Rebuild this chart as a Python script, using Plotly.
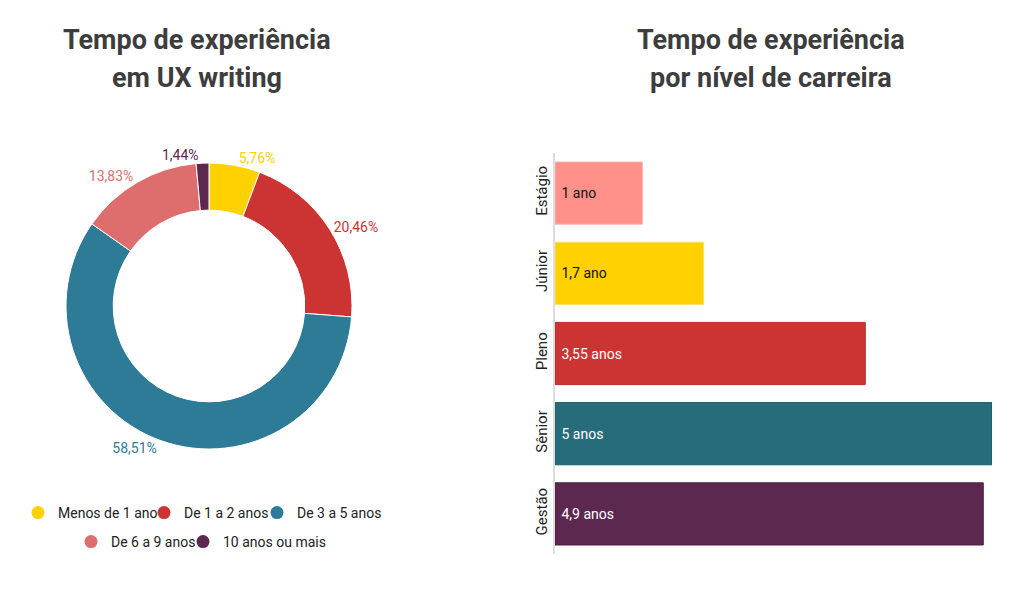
import plotly.graph_objects as go

# Donut data
faixas = ["Menos de 1 ano", "De 1 a 2 anos", "De 3 a 5 anos", "De 6 a 9 anos", "10 anos ou mais"]
percentuais = [5.76, 20.46, 58.51, 13.83, 1.44]
rotulos_pct = ["5,76%", "20,46%", "58,51%", "13,83%", "1,44%"]
cores_donut = ["#FFD100", "#CC3333", "#2E7B98", "#DE6E6E", "#5C2850"]

# Bar data
niveis = ["Estágio", "Júnior", "Pleno", "Sênior", "Gestão"]
anos = [1, 1.7, 3.55, 5, 4.9]
rotulos_anos = ["1 ano", "1,7 ano", "3,55 anos", "5 anos", "4,9 anos"]
cores_barras = ["#FF918A", "#FFD100", "#CC3333", "#276C7A", "#5C2850"]
bordas_barras = ["#FFB3AD", "#FFE066", "#B82A2A", "#1F5A66", "#4A1E40"]
cores_texto_barras = ["#111111", "#111111", "#FFFFFF", "#FFFFFF", "#FFFFFF"]

# page is rendered with an 8px body margin
OFF = 8
W, H = 1024 - OFF, 589 - OFF
FONT = "Roboto"


def px(x):
    return (x - OFF) / W


def py(y):
    return 1 - (y - OFF) / H


fig = go.Figure()

fig.add_trace(go.Pie(
    labels=faixas, values=percentuais, text=rotulos_pct,
    hole=0.67, sort=False, direction="clockwise", rotation=0,
    marker=dict(colors=cores_donut, line=dict(color="#FFFFFF", width=1)),
    textinfo="text", textposition="outside",
    textfont=dict(family=FONT, size=14, color=cores_donut),
    domain=dict(x=[px(66), px(352)], y=[py(449), py(163)]),
    showlegend=False,
))

# legend entries (circle markers), one legend per entry for exact placement
leg_pos = [(41, 513), (167, 513), (280, 513), (94, 542), (206, 542)]
legend_layouts = {}
for i, (nome, cor) in enumerate(zip(faixas, cores_donut)):
    key = "legend" if i == 0 else f"legend{i + 1}"
    fig.add_trace(go.Scatter(
        x=[None], y=[None], mode="markers", name=nome,
        marker=dict(color=cor, size=13, symbol="circle"),
        xaxis="x2", yaxis="y2", legend=key,
    ))
    cx, cy = leg_pos[i]
    legend_layouts[key] = dict(
        orientation="h", x=px(cx - 23), xanchor="left", y=py(cy), yanchor="middle",
        font=dict(family=FONT, size=14, color="#222222"), itemwidth=30,
        bgcolor="rgba(0,0,0,0)", borderwidth=0,
    )

fig.add_trace(go.Bar(
    y=niveis, x=anos, orientation="h",
    text=["\u00a0" + t for t in rotulos_anos],
    textposition="inside", insidetextanchor="start",
    textfont=dict(family=FONT, size=14, color=cores_texto_barras),
    marker=dict(color=cores_barras, line=dict(color=bordas_barras, width=1)),
    width=0.775, showlegend=False,
))

fig.update_layout(
    width=W, height=H,
    margin=dict(l=0, r=0, t=0, b=0),
    paper_bgcolor="white", plot_bgcolor="white",
    font=dict(family=FONT, size=13, color="#222222"),
    xaxis=dict(domain=[px(555), px(992)], range=[0, 5], visible=False, fixedrange=True),
    yaxis=dict(domain=[py(554), py(153)], autorange="reversed",
               showline=True, linecolor="#DDDDDD", linewidth=2,
               showgrid=False, zeroline=False, ticks="",
               tickangle=-90, tickfont=dict(family=FONT, size=15, color="#222222")),
    xaxis2=dict(domain=[0, 0.01], visible=False),
    yaxis2=dict(domain=[0, 0.01], visible=False),
    showlegend=True,
    **legend_layouts,
)

titulos = [
    ("Tempo de experiência", 197, 40),
    ("em UX writing", 197, 78),
    ("Tempo de experiência", 771, 40),
    ("por nível de carreira", 771, 78),
]
for txt, x, y in titulos:
    fig.add_annotation(text="<b>" + txt + "</b>", x=px(x), y=py(y), xref="paper", yref="paper",
                       xanchor="center", yanchor="middle", showarrow=False,
                       font=dict(family=FONT, size=27, color="#3D3D3D"))

fig.write_html("out.html")
